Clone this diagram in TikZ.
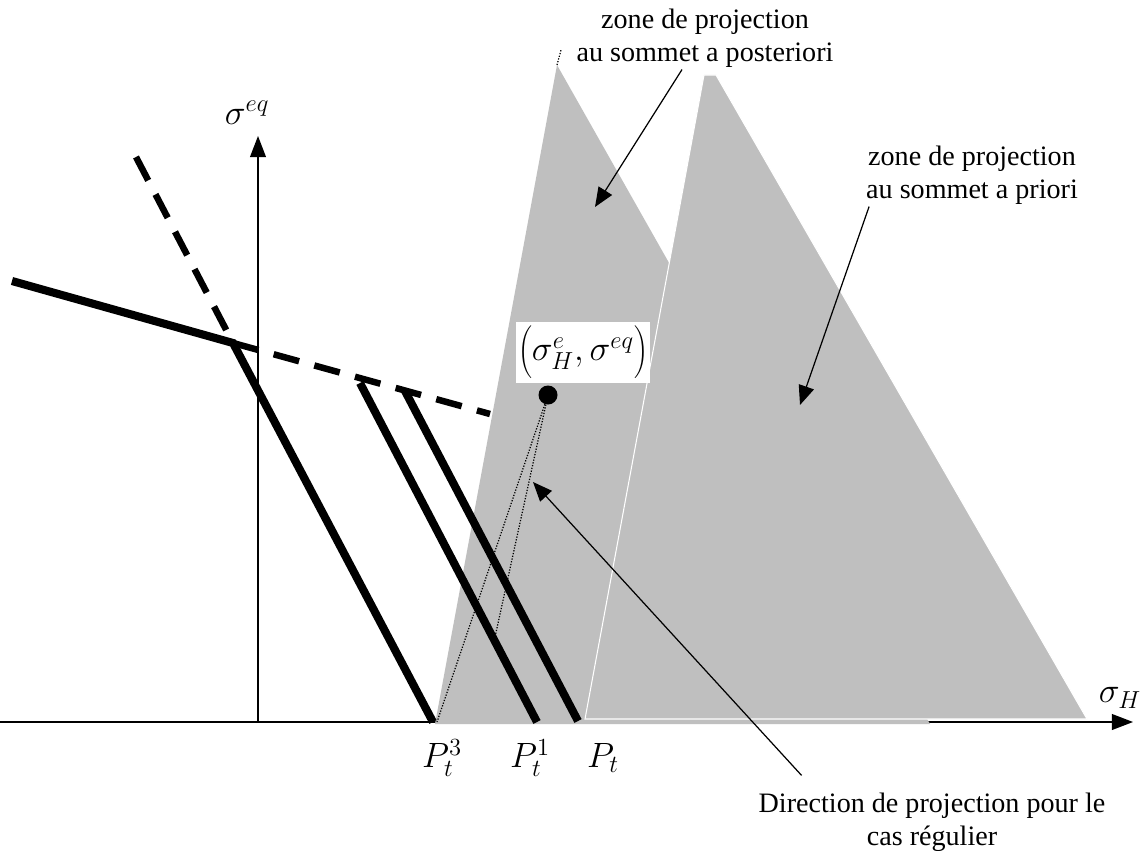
\RequirePackage{fix-cm}
\documentclass[tikz,border=0pt]{standalone}
\usepackage{fontspec}
\setmainfont{Liberation Serif}
\usetikzlibrary{arrows.meta}
\newcommand{\zonetxt}{\fontsize{16}{19}\selectfont}
\newcommand{\symtxt}{\fontsize{20}{24}\selectfont}

\begin{document}
\begin{tikzpicture}[x=0.2mm,y=-0.2mm]
		\tikzset{
			axe/.style={line width=0.8pt,-{Triangle[length=12pt,width=9pt]}},
			limite/.style={line width=4.6pt},
			prolong/.style={line width=3.7pt,dash pattern=on 15pt off 9pt},
			zone/.style={fill=black!25,draw=none},
			proj/.style={line width=0.7pt,dash pattern=on 0.7pt off 0.9pt},
			renvoi/.style={line width=0.7pt,-{Triangle[length=11pt,width=9pt]}},
			texte/.style={font=\zonetxt,align=center,inner sep=1pt},
			symb/.style={font=\symtxt,inner sep=1pt}
		}
		\fill[white] (0,0) rectangle (1145,850);
		\useasboundingbox (0,0) rectangle (1145,850);
		
		\coordinate (O) at (258,722);
		\coordinate (xdeb) at (0,722);
		\coordinate (xfin) at (1133,722);
		\coordinate (yfin) at (258,136);
		\draw[axe] (xdeb) -- (xfin);
		\draw[axe] (O) -- (yfin);
		
		\fill[zone] (557,65) -- (435,724) -- (930,724) -- cycle;
		\filldraw[zone,draw=white,line width=0.6pt] (704,75) -- (716,75) -- (1087,719) -- (585,719) -- cycle;
		\draw[proj] (557,65) -- (561,50);
		
		\coordinate (K) at (233,343);
		\coordinate (A0) at (12,281);
		\coordinate (P3) at (433,722);
		\coordinate (B0) at (360,383);
		\coordinate (P1) at (537,722);
		\coordinate (C0) at (405,391);
		\coordinate (P0) at (578,721);
		\coordinate (D0) at (136,157);
		\coordinate (D1) at (490,414);
		\draw[limite] (A0) -- (K) -- (P3);
		\draw[limite] (B0) -- (P1);
		\draw[limite] (C0) -- (P0);
		\draw[prolong] (D0) -- (K);
		\draw[prolong] (K) -- (D1);
		
		\node[circle,fill=black,inner sep=0pt,minimum size=3.8mm] (M) at (548,395) {};
		\coordinate (Q3) at (437,722);
		\coordinate (Q1) at (495,637);
		\draw[proj] (M) -- (Q3);
		\draw[proj] (M) -- (Q1);
		\node[fill=white,symb,minimum width=25.8mm,minimum height=12.2mm] (etat) at (583,352) {$\left(\rule[-2.5mm]{0pt}{9mm}\sigma^{e}_{H},\sigma^{eq}\right)$};
		
		\node[texte] (post) at (705,38) {zone de projection\\au sommet a posteriori};
		\node[texte] (prio) at (972,175) {zone de projection\\au sommet a priori};
		\node[texte] (dir) at (932,822) {Direction de projection pour le\\cas régulier};
		\coordinate (postTip) at (595,207);
		\coordinate (prioTip) at (800,405);
		\coordinate (dirTip) at (533,482);
		\draw[renvoi] ([xshift=-4.6mm]post.south) -- (postTip);
		\draw[renvoi] ([xshift=1mm]prio.south west) -- (prioTip);
		\draw[renvoi] ([xshift=9mm,yshift=3mm]dir.north west) -- (dirTip);
		
		\node[symb] (seq) at (247,113) {$\sigma^{eq}$};
		\node[symb] (sH) at (1120,698) {$\sigma_{H}$};
		\node[symb] (lab3) at (442,758) {$P^{3}_{t}$};
		\node[symb] (lab1) at (530,758) {$P^{1}_{t}$};
		\node[symb] (lab0) at (603,758) {$P_{t}$};
	\end{tikzpicture}
\end{document}
